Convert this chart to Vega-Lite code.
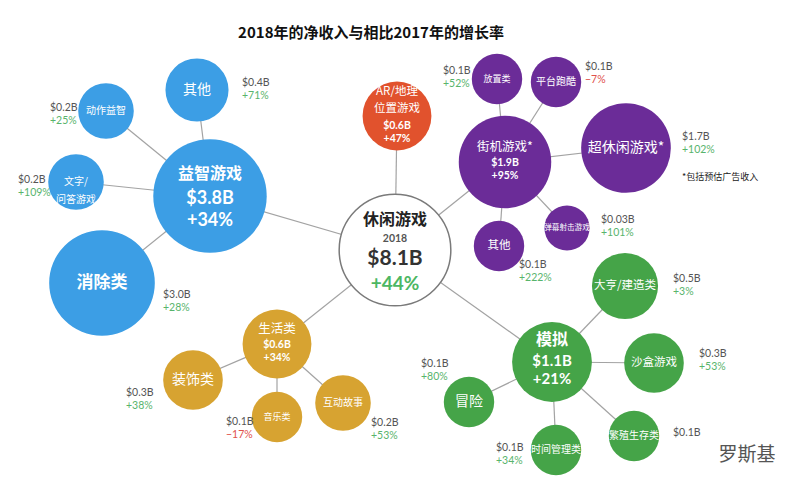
{
  "$schema": "https://vega.github.io/schema/vega-lite/v6.json",
  "width": 803,
  "height": 490,
  "autosize": "none",
  "padding": 0,
  "background": "white",
  "config": {"view": {"stroke": null}, "font": "Noto Sans CJK SC"},
  "datasets": {
    "nodes": [
      {"id": "休闲游戏", "label": "休闲游戏", "group": "中心", "value": 8.1, "growth": 44, "x": 395, "y": 250},
      {"id": "益智游戏", "label": "益智游戏", "group": "益智", "value": 3.8, "growth": 34, "x": 210, "y": 196, "parent": "休闲游戏"},
      {"id": "益智-其他", "label": "其他", "group": "益智", "value": 0.4, "growth": 71, "x": 197, "y": 90, "parent": "益智游戏", "lx": 242, "ly": 83},
      {"id": "动作益智", "label": "动作益智", "group": "益智", "value": 0.2, "growth": 25, "x": 106, "y": 111, "parent": "益智游戏", "lx": 50, "ly": 108},
      {"id": "文字/问答游戏", "label": "文字/\n问答游戏", "group": "益智", "value": 0.2, "growth": 109, "x": 76, "y": 182, "parent": "益智游戏", "lx": 18, "ly": 180},
      {"id": "消除类", "label": "消除类", "group": "益智", "value": 3.0, "growth": 28, "x": 102, "y": 283, "parent": "益智游戏", "lx": 163, "ly": 295},
      {"id": "AR/地理位置游戏", "label": "AR/地理\n位置游戏", "group": "AR", "value": 0.6, "growth": 47, "x": 397, "y": 116, "parent": "休闲游戏"},
      {"id": "街机游戏*", "label": "街机游戏*", "group": "街机", "value": 1.9, "growth": 95, "x": 505, "y": 162, "parent": "休闲游戏"},
      {"id": "放置类", "label": "放置类", "group": "街机", "value": 0.1, "growth": 52, "x": 497, "y": 79, "parent": "街机游戏*", "lx": 443, "ly": 71},
      {"id": "平台跑酷", "label": "平台跑酷", "group": "街机", "value": 0.1, "growth": -7, "x": 556, "y": 82, "parent": "街机游戏*", "lx": 585, "ly": 67},
      {"id": "超休闲游戏*", "label": "超休闲游戏*", "group": "街机", "value": 1.7, "growth": 102, "x": 626, "y": 148, "parent": "街机游戏*", "lx": 682, "ly": 137},
      {"id": "弹幕射击游戏", "label": "弹幕射击游戏", "group": "街机", "value": 0.03, "growth": 101, "x": 567, "y": 228, "parent": "街机游戏*", "lx": 601, "ly": 220},
      {"id": "街机-其他", "label": "其他", "group": "街机", "value": 0.1, "growth": 222, "x": 499, "y": 246, "parent": "街机游戏*", "lx": 519, "ly": 265},
      {"id": "模拟", "label": "模拟", "group": "模拟", "value": 1.1, "growth": 21, "x": 552, "y": 362, "parent": "休闲游戏"},
      {"id": "大亨/建造类", "label": "大亨/建造类", "group": "模拟", "value": 0.5, "growth": 3, "x": 625, "y": 286, "parent": "模拟", "lx": 673, "ly": 279},
      {"id": "沙盒游戏", "label": "沙盒游戏", "group": "模拟", "value": 0.3, "growth": 53, "x": 654, "y": 363, "parent": "模拟", "lx": 699, "ly": 354},
      {"id": "繁殖生存类", "label": "繁殖生存类", "group": "模拟", "value": 0.1, "growth": null, "x": 634, "y": 436, "parent": "模拟", "lx": 673, "ly": 433},
      {"id": "时间管理类", "label": "时间管理类", "group": "模拟", "value": 0.1, "growth": 34, "x": 556, "y": 450, "parent": "模拟", "lx": 496, "ly": 448},
      {"id": "冒险", "label": "冒险", "group": "模拟", "value": 0.1, "growth": 80, "x": 469, "y": 402, "parent": "模拟", "lx": 421, "ly": 364},
      {"id": "生活类", "label": "生活类", "group": "生活", "value": 0.6, "growth": 34, "x": 277, "y": 344, "parent": "休闲游戏"},
      {"id": "装饰类", "label": "装饰类", "group": "生活", "value": 0.3, "growth": 38, "x": 193, "y": 380, "parent": "生活类", "lx": 126, "ly": 393},
      {"id": "音乐类", "label": "音乐类", "group": "生活", "value": 0.1, "growth": -17, "x": 277, "y": 417, "parent": "生活类", "lx": 226, "ly": 422},
      {"id": "互动故事", "label": "互动故事", "group": "生活", "value": 0.2, "growth": 53, "x": 343, "y": 403, "parent": "生活类", "lx": 371, "ly": 423}
    ]
  },
  "data": {"name": "nodes"},
  "transform": [
    {"lookup": "parent", "from": {"data": {"name": "nodes"}, "key": "id", "fields": ["x", "y"]}, "as": ["px", "py"]},
    {"calculate": "'$' + (datum.value < 0.1 ? format(datum.value, '.2f') : format(datum.value, '.1f')) + 'B'", "as": "rev"},
    {"calculate": "isValid(datum.growth) ? format(datum.growth, '+d') + '%' : ''", "as": "gl"},
    {"calculate": "datum.rev + '\\n' + datum.gl", "as": "inner"}
  ],
  "encoding": {
    "x": {"field": "x", "type": "quantitative", "scale": {"domain": [0, 803], "nice": false, "zero": false}, "axis": null},
    "y": {"field": "y", "type": "quantitative", "scale": {"domain": [0, 490], "reverse": true, "nice": false, "zero": false}, "axis": null}
  },
  "layer": [
    {
      "transform": [{"filter": "isValid(datum.parent)"}],
      "mark": {"type": "rule", "stroke": "#a3a3a3", "strokeWidth": 1.2},
      "encoding": {
        "x": {"field": "px", "type": "quantitative", "scale": {"domain": [0, 803], "nice": false, "zero": false}, "axis": null},
        "y": {"field": "py", "type": "quantitative", "scale": {"domain": [0, 490], "reverse": true, "nice": false, "zero": false}, "axis": null},
        "x2": {"field": "x"},
        "y2": {"field": "y"}
      }
    },
    {
      "transform": [{"filter": "datum.group !== '中心'"}],
      "mark": {"type": "circle", "opacity": 1},
      "encoding": {
        "size": {"field": "value", "type": "quantitative", "scale": {"type": "pow", "exponent": 0.7, "domain": [0, 3.8], "range": [1662, 12868]}, "legend": null},
        "color": {"field": "group", "type": "nominal", "scale": {"domain": ["益智", "AR", "街机", "模拟", "生活"], "range": ["#3c9ee5", "#e1522d", "#6b2c98", "#45a448", "#d7a331"]}, "legend": null}
      }
    },
    {
      "transform": [{"filter": "datum.group === '中心'"}],
      "mark": {"type": "circle", "size": 12469, "fill": "white", "stroke": "#7a7a7a", "strokeWidth": 1.5, "opacity": 1}
    },
    {
      "transform": [{"filter": "datum.group === '中心'"}],
      "mark": {"type": "text", "fontSize": 16, "fontWeight": "bold", "fill": "#222222", "dy": -30, "font": "Noto Sans CJK SC"},
      "encoding": {"text": {"field": "label"}}
    },
    {
      "transform": [{"filter": "datum.group === '中心'"}],
      "mark": {"type": "text", "text": "2018", "fontSize": 10.5, "fontWeight": "bold", "fill": "#555555", "dy": -11, "font": "Lato"}
    },
    {
      "transform": [{"filter": "datum.group === '中心'"}],
      "mark": {"type": "text", "fontSize": 21, "fontWeight": "bold", "fill": "#333333", "dy": 9, "font": "Lato"},
      "encoding": {"text": {"field": "rev"}}
    },
    {
      "transform": [{"filter": "datum.group === '中心'"}],
      "mark": {"type": "text", "fontSize": 19, "fontWeight": "bold", "fill": "#4cb763", "dy": 34, "font": "Lato"},
      "encoding": {"text": {"field": "gl"}}
    },
    {
      "transform": [{"filter": {"field": "id", "oneOf": ["益智游戏", "模拟"]}}],
      "mark": {"type": "text", "fontSize": 16, "fontWeight": "bold", "fill": "white", "dy": -22, "font": "Noto Sans CJK SC"},
      "encoding": {"text": {"field": "label"}}
    },
    {
      "transform": [{"filter": {"field": "id", "equal": "益智游戏"}}],
      "mark": {"type": "text", "fontSize": 18, "fontWeight": "bold", "fill": "white", "baseline": "top", "dy": -6, "lineBreak": "\n", "lineHeight": 22, "font": "Lato"},
      "encoding": {"text": {"field": "inner"}}
    },
    {
      "transform": [{"filter": {"field": "id", "equal": "模拟"}}],
      "mark": {"type": "text", "fontSize": 15, "fontWeight": "bold", "fill": "white", "baseline": "top", "dy": -8, "lineBreak": "\n", "lineHeight": 18, "font": "Lato"},
      "encoding": {"text": {"field": "inner"}}
    },
    {
      "transform": [{"filter": {"field": "id", "oneOf": ["街机游戏*", "生活类"]}}],
      "mark": {"type": "text", "fontSize": 12.5, "fill": "white", "dy": -15, "font": "Noto Sans CJK SC"},
      "encoding": {"text": {"field": "label"}}
    },
    {
      "transform": [{"filter": {"field": "id", "oneOf": ["街机游戏*", "生活类"]}}],
      "mark": {"type": "text", "fontSize": 10.5, "fontWeight": "bold", "fill": "white", "baseline": "top", "dy": -4, "lineBreak": "\n", "lineHeight": 13, "font": "Lato"},
      "encoding": {"text": {"field": "inner"}}
    },
    {
      "transform": [{"filter": {"field": "id", "equal": "AR/地理位置游戏"}}],
      "mark": {"type": "text", "fontSize": 11.5, "fill": "white", "baseline": "top", "dy": -30, "lineBreak": "\n", "lineHeight": 17, "font": "Noto Sans CJK SC"},
      "encoding": {"text": {"field": "label"}}
    },
    {
      "transform": [{"filter": {"field": "id", "equal": "AR/地理位置游戏"}}],
      "mark": {"type": "text", "fontSize": 10.5, "fontWeight": "bold", "fill": "white", "baseline": "top", "dy": 5, "lineBreak": "\n", "lineHeight": 13, "font": "Lato"},
      "encoding": {"text": {"field": "inner"}}
    },
    {
      "transform": [{"filter": {"field": "id", "equal": "消除类"}}],
      "mark": {"type": "text", "fontSize": 17, "fontWeight": "bold", "fill": "white", "font": "Noto Sans CJK SC"},
      "encoding": {"text": {"field": "label"}}
    },
    {
      "transform": [{"filter": {"field": "id", "oneOf": ["益智-其他", "超休闲游戏*", "装饰类", "冒险"]}}],
      "mark": {"type": "text", "fontSize": 14, "fill": "white", "font": "Noto Sans CJK SC"},
      "encoding": {"text": {"field": "label"}}
    },
    {
      "transform": [{"filter": {"field": "id", "oneOf": ["沙盒游戏", "街机-其他", "大亨/建造类"]}}],
      "mark": {"type": "text", "fontSize": 11.5, "fill": "white", "font": "Noto Sans CJK SC"},
      "encoding": {"text": {"field": "label"}}
    },
    {
      "transform": [{"filter": {"field": "id", "oneOf": ["动作益智", "文字/问答游戏", "平台跑酷", "繁殖生存类", "时间管理类", "互动故事"]}}],
      "mark": {"type": "text", "fontSize": 10, "fill": "white", "lineBreak": "\n", "lineHeight": 18, "font": "Noto Sans CJK SC"},
      "encoding": {"text": {"field": "label"}}
    },
    {
      "transform": [{"filter": {"field": "id", "oneOf": ["放置类", "音乐类"]}}],
      "mark": {"type": "text", "fontSize": 9, "fill": "white", "font": "Noto Sans CJK SC"},
      "encoding": {"text": {"field": "label"}}
    },
    {
      "transform": [{"filter": {"field": "id", "equal": "弹幕射击游戏"}}],
      "mark": {"type": "text", "fontSize": 7.6, "fill": "white", "font": "Noto Sans CJK SC"},
      "encoding": {"text": {"field": "label"}}
    },
    {
      "transform": [{"filter": "isValid(datum.lx)"}],
      "mark": {"type": "text", "align": "left", "baseline": "middle", "fontSize": 10.5, "fill": "#555555", "font": "Lato"},
      "encoding": {
        "x": {"field": "lx", "type": "quantitative", "scale": {"domain": [0, 803], "nice": false, "zero": false}, "axis": null},
        "y": {"field": "ly", "type": "quantitative", "scale": {"domain": [0, 490], "reverse": true, "nice": false, "zero": false}, "axis": null},
        "text": {"field": "rev"}
      }
    },
    {
      "transform": [{"filter": "isValid(datum.lx) && isValid(datum.growth)"}],
      "mark": {"type": "text", "align": "left", "baseline": "middle", "fontSize": 10.5, "dy": 13, "font": "Lato"},
      "encoding": {
        "x": {"field": "lx", "type": "quantitative", "scale": {"domain": [0, 803], "nice": false, "zero": false}, "axis": null},
        "y": {"field": "ly", "type": "quantitative", "scale": {"domain": [0, 490], "reverse": true, "nice": false, "zero": false}, "axis": null},
        "text": {"field": "gl"},
        "color": {"condition": {"test": "datum.growth < 0", "value": "#e0514b"}, "value": "#58b46c"}
      }
    },
    {
      "data": {"values": [{"label": "2018年的净收入与相比2017年的增长率", "x": 371, "y": 33}]},
      "mark": {"type": "text", "fontSize": 15, "fontWeight": "bold", "fill": "#111111", "font": "Noto Sans CJK SC"},
      "encoding": {"text": {"field": "label"}}
    },
    {
      "data": {"values": [{"label": "*包括预估广告收入", "x": 682, "y": 177}]},
      "mark": {"type": "text", "align": "left", "fontSize": 9, "fill": "#222222", "font": "Noto Sans CJK SC"},
      "encoding": {"text": {"field": "label"}}
    },
    {
      "data": {"values": [{"label": "罗斯基", "x": 747, "y": 455}]},
      "mark": {"type": "text", "fontSize": 19, "fill": "#555555", "font": "Noto Sans CJK SC"},
      "encoding": {"text": {"field": "label"}}
    }
  ]
}
